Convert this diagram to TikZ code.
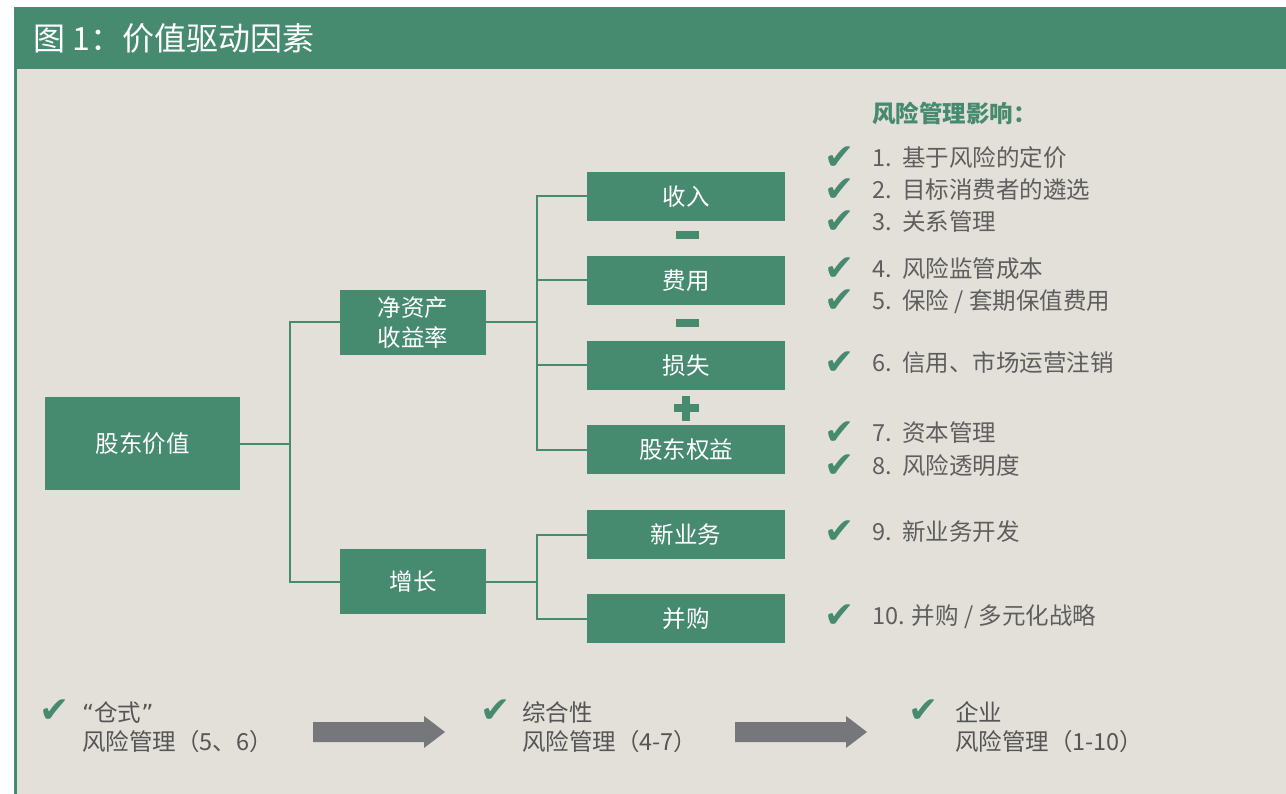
\documentclass[tikz,border=0pt]{standalone}
\usepackage{fontspec}
\setmainfont{Noto Sans CJK SC}
\newfontfamily\dejavu{DejaVu Sans}
\definecolor{tgreen}{HTML}{468A70}
\definecolor{bgc}{HTML}{E3E0DA}
\definecolor{tgray}{HTML}{5E5E5E}
\definecolor{dgray}{HTML}{555555}
\definecolor{agray}{HTML}{76777B}
\tikzset{
  box/.style={fill=tgreen, text=white, inner sep=0pt, minimum width=198pt, minimum height=49pt, font=\fontsize{23.5}{27}\selectfont},
  conn/.style={draw=tgreen, line width=2pt},
  item/.style={anchor=west, text=tgray, inner sep=0pt, text height=17pt, text depth=3pt, font=\fontsize{23.5}{27}\selectfont},
  chk/.style={anchor=center, text=tgreen, inner sep=0pt, text height=18pt, text depth=0pt, font=\dejavu\fontsize{36}{40}\selectfont},
  btxt/.style={anchor=west, text=dgray, inner sep=0pt, align=left, font=\fontsize{23.5}{29.5}\selectfont},
  bararrow/.style={fill=agray},
  sign/.style={fill=tgreen}
}
\begin{document}
\begin{tikzpicture}[x=1pt,y=-1pt]
\useasboundingbox (0,0) rectangle (1286,794);
\fill[white] (0,0) rectangle (1286,794);
\fill[bgc] (14,69) rectangle (1286,794);
\fill[tgreen] (14,7) rectangle (1286,69);
\fill[tgreen] (14,69) rectangle (16.5,794);
\node[anchor=west, text=white, inner sep=0pt, font=\fontsize{32}{35}\selectfont] (title) at (33,38) {图 1：价值驱动因素};

% boxes
\node[box, minimum width=195pt, minimum height=93pt] (sv) at (142.5,443.5) {股东价值};
\node[box, minimum width=146pt, minimum height=65pt, align=center, font=\fontsize{23.5}{30}\selectfont] (roe) at (413,322.5) {净资产\\收益率};
\node[box, minimum width=146pt, minimum height=65pt] (gr) at (413,581.5) {增长};
\node[box] (rev) at (686,196.5) {收入};
\node[box] (exp) at (686,280.5) {费用};
\node[box] (loss) at (686,365.5) {损失};
\node[box] (eq) at (686,449.5) {股东权益};
\node[box] (nb) at (686,534.5) {新业务};
\node[box] (ma) at (686,618.5) {并购};

% connectors
\coordinate (j1) at (290,443.5);
\coordinate (j2) at (537,322.5);
\coordinate (j3) at (537,581.5);
\draw[conn] (sv.east) -- (j1);
\draw[conn] (j1) |- (roe.west);
\draw[conn] (j1) |- (gr.west);
\draw[conn] (roe.east) -- (j2);
\draw[conn] (j2) |- (rev.west);
\draw[conn] (j2) |- (exp.west);
\draw[conn] (j2) |- (loss.west);
\draw[conn] (j2) |- (eq.west);
\draw[conn] (gr.east) -- (j3);
\draw[conn] (j3) |- (nb.west);
\draw[conn] (j3) |- (ma.west);

% signs
\fill[sign] (676,231) rectangle (699,239);
\fill[sign] (676,319) rectangle (699,327);
\fill[sign] (673.5,404.5) rectangle (698.5,412.5);
\fill[sign] (682,396) rectangle (690,421);

% right list
\node[anchor=west, text=tgreen, inner sep=0pt, font=\bfseries\fontsize{23.5}{27}\selectfont] (head) at (872,113) {风险管理影响：};
\foreach \yy/\txt/\nm in {158/{1.\ \ 基于风险的定价}/a,190/{2.\ \ 目标消费者的遴选}/b,222/{3.\ \ 关系管理}/c,269/{4.\ \ 风险监管成本}/d,301/{5.\ \ 保险 / 套期保值费用}/e,363/{6.\ \ 信用、市场运营注销}/f,433/{7.\ \ 资本管理}/g,465/{8.\ \ 风险透明度}/h,531/{9.\ \ 新业务开发}/i,615/{10. 并购 / 多元化战略}/j}{
  \node[chk] (c\nm) at (839.5,\yy+3) {✔};
  \node[item] (t\nm) at (872,\yy+2) {\txt};
}

% bottom
\node[chk] (bc1) at (54.5,713.5) {✔};
\node[btxt] (bt1) at (82,727) {{\dejavu “}仓式{\dejavu ”}\\风险管理（5、6）};
\node[chk] (bc2) at (496,713.5) {✔};
\node[btxt] (bt2) at (522,727) {综合性\\风险管理（4-7）};
\node[chk] (bc3) at (924,713.5) {✔};
\node[btxt] (bt3) at (955,727) {企业\\风险管理（1-10）};

\fill[bararrow] (313,722)--(424,722)--(424,716)--(445,732)--(424,748)--(424,742)--(313,742)--cycle;
\fill[bararrow] (735,722)--(846,722)--(846,716)--(867,732)--(846,748)--(846,742)--(735,742)--cycle;
\end{tikzpicture}
\end{document}
